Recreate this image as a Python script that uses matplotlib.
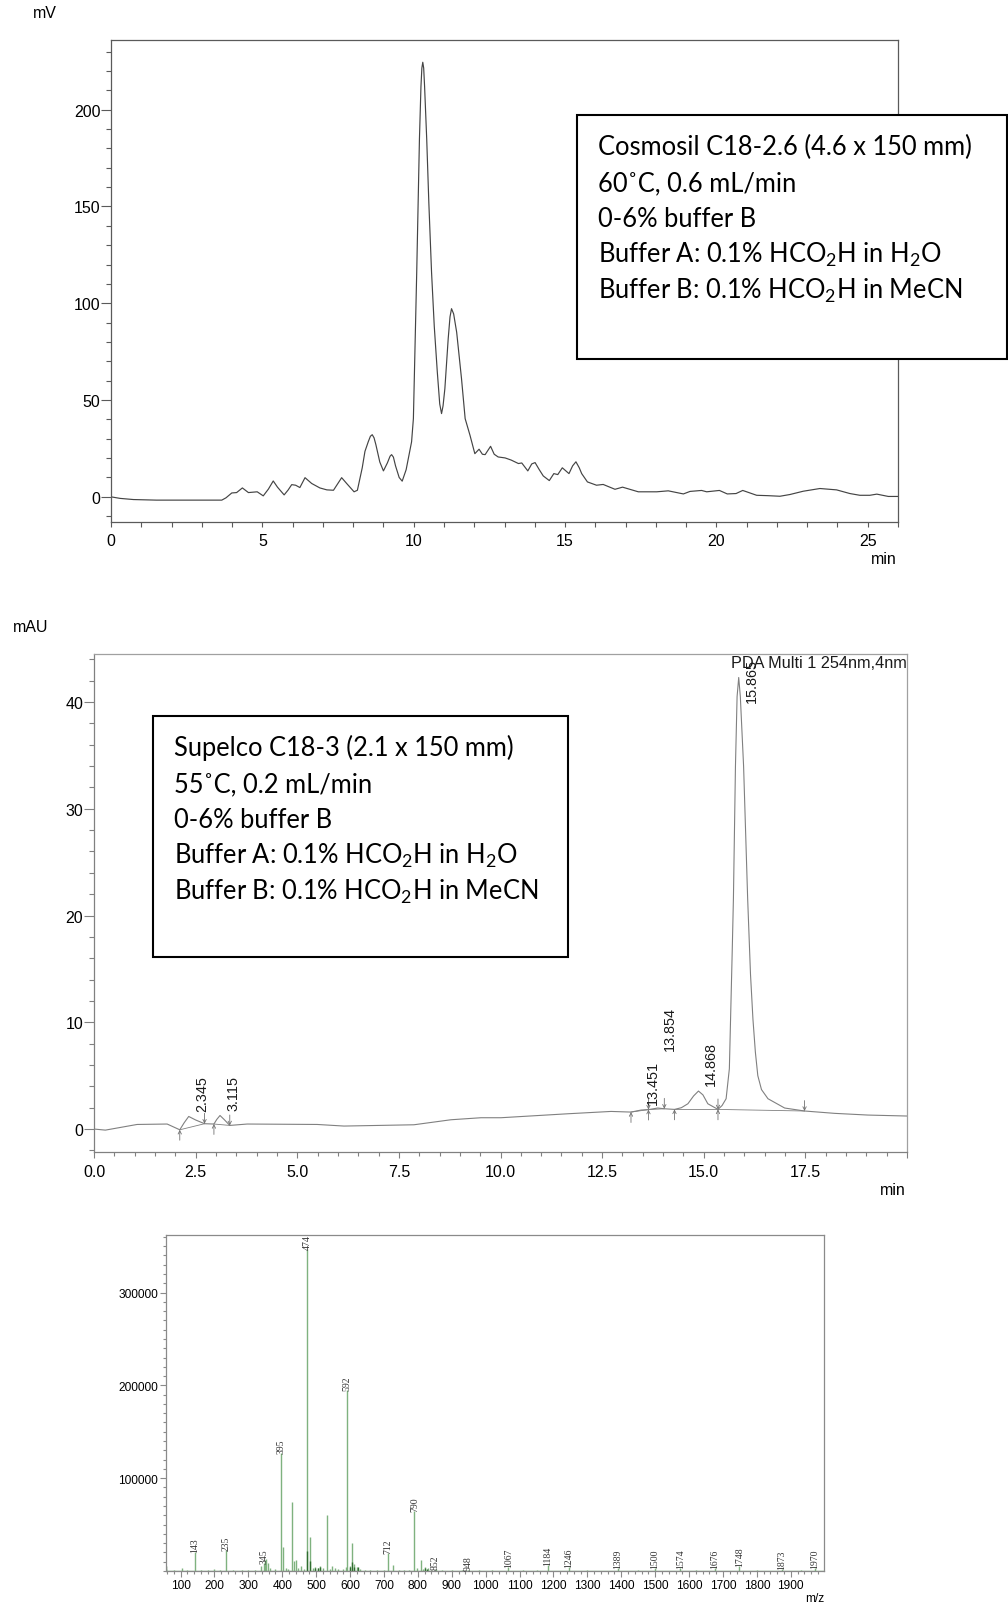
import numpy as np
import matplotlib
matplotlib.use("Agg")
import matplotlib.pyplot as plt
from matplotlib.patches import Rectangle
from matplotlib.ticker import MultipleLocator, FixedLocator, FuncFormatter

plt.rcParams['font.family'] = ['Liberation Sans', 'DejaVu Sans']

FIG_W, FIG_H = 1008, 1608
BOX_FONT = ['Lato', 'DejaVu Sans']

# --- Cosmosil C18-2.6 chromatogram (min, mV) ---
cosmosil_time = [0.0, 0.3, 0.74, 1.5, 3.66, 3.80, 3.99, 4.15, 4.34, 4.54, 4.83, 5.03, 5.20, 5.36,
                 5.50, 5.72, 5.85, 5.97, 6.10, 6.24, 6.41, 6.63, 6.90, 7.13, 7.35, 7.48, 7.62,
                 7.78, 8.03, 8.14, 8.30, 8.39, 8.50, 8.57, 8.63, 8.69, 8.75, 8.88, 9.00, 9.13,
                 9.22, 9.27, 9.33, 9.40, 9.52, 9.62, 9.75, 9.85, 9.93, 9.99, 10.04, 10.10,
                 10.19, 10.24, 10.27, 10.30, 10.33, 10.36, 10.43, 10.50, 10.59, 10.68, 10.78,
                 10.86, 10.92, 10.97, 11.03, 11.14, 11.20, 11.25, 11.32, 11.42, 11.58, 11.70,
                 11.86, 12.02, 12.16, 12.27, 12.36, 12.54, 12.66, 12.79, 13.02, 13.22, 13.46,
                 13.57, 13.77, 13.90, 14.01, 14.15, 14.28, 14.48, 14.63, 14.76, 14.91, 15.13,
                 15.25, 15.36, 15.47, 15.55, 15.74, 16.04, 16.26, 16.65, 16.90, 17.42, 18.03,
                 18.41, 18.91, 19.13, 19.51, 19.68, 20.10, 20.36, 20.65, 20.87, 21.33, 21.71,
                 22.10, 22.43, 22.87, 23.42, 23.97, 24.41, 24.74, 25.07, 25.30, 25.68, 26.00]
cosmosil_mv = [0.0, -0.8, -1.4, -1.7, -1.7, -0.5, 2.0, 2.2, 4.6, 2.2, 2.6, 0.5, 4.0, 8.2,
               5.0, 1.0, 3.5, 6.3, 6.0, 4.8, 9.9, 6.9, 4.6, 3.6, 3.4, 6.5, 9.9,
               7.0, 2.6, 3.4, 15.0, 23.5, 28.5, 31.3, 32.1, 30.5, 27.0, 18.0, 13.4, 17.5,
               21.0, 21.8, 20.5, 16.0, 10.0, 8.1, 14.0, 22.0, 28.4, 40.4, 75.0, 116.0,
               184.9, 212.0, 221.5, 224.5, 221.5, 212.0, 184.9, 152.0, 116.0, 88.0, 64.5,
               48.0, 43.0, 47.0, 55.9, 81.7, 93.0, 97.2, 94.5, 85.0, 61.0, 40.4,
               31.8, 22.3, 24.6, 22.0, 21.8, 26.1, 22.0, 20.6, 20.1, 19.0, 17.2,
               17.5, 13.4, 17.0, 17.7, 14.0, 10.8, 8.4, 12.0, 11.5, 15.0, 12.0,
               16.0, 18.1, 15.0, 12.0, 7.7, 6.0, 6.4, 3.9, 5.0, 2.6, 2.6,
               3.1, 1.5, 2.8, 3.3, 2.6, 3.3, 1.5, 1.7, 3.3, 0.8, 0.6,
               0.3, 1.2, 2.9, 4.3, 3.6, 1.7, 0.8, 0.8, 1.4, 0.2, 0.2]

# --- Supelco C18-3 chromatogram (min, mAU) ---
supelco_time = [0.0, 0.28, 1.06, 1.80, 2.11, 2.22, 2.33, 2.50, 2.72, 2.95, 3.02, 3.10, 3.20,
                3.34, 3.77, 5.49, 6.15, 7.87, 8.78, 9.52, 10.01, 11.65, 12.72, 13.21, 13.46,
                13.64, 13.87, 14.03, 14.28, 14.45, 14.61, 14.75, 14.87, 14.98, 15.10, 15.35,
                15.45, 15.55, 15.63, 15.70, 15.73, 15.78, 15.82, 15.86, 15.90, 15.98, 16.08,
                16.15, 16.21, 16.27, 16.33, 16.42, 16.58, 16.99, 17.48, 18.22, 19.04, 20.0]
supelco_mau = [0.0, -0.1, 0.43, 0.47, -0.07, 0.6, 1.18, 0.85, 0.5, 0.47, 0.9, 1.27, 0.9,
               0.34, 0.47, 0.43, 0.28, 0.40, 0.87, 1.06, 1.06, 1.43, 1.65, 1.59, 1.78,
               1.82, 1.97, 1.9, 1.84, 2.0, 2.37, 3.1, 3.56, 3.2, 2.37, 1.84,
               2.2, 2.84, 5.65, 16.6, 21.6, 34.0, 40.5, 42.3, 40.5, 34.0, 21.6,
               14.5, 10.3, 7.2, 5.0, 3.7, 2.84, 1.97, 1.69, 1.47, 1.31, 1.22]

peak_rt = [2.345, 3.115, 13.451, 13.854, 14.868, 15.865]
peak_label_base = [1.65, 1.74, 2.37, 7.45, 4.15, 40.0]

# integration marks: peak start (arrow up from below) / peak end (arrow down from above)
mark_up = [2.11, 2.95, 13.21, 13.64, 14.28, 15.35]
mark_down = [2.72, 3.34, 13.64, 14.03, 15.35, 17.48]
baseline_start = [2.11, 2.95, 13.21, 13.64, 14.28, 15.35]
baseline_end = [2.72, 3.34, 13.64, 14.03, 15.35, 17.48]

# --- mass spectrum (m/z, counts) ---
ms_mz = [58, 80, 103, 120, 143, 160, 180, 200, 215, 235, 255, 280, 300, 320, 338, 345, 349,
         353, 358, 365, 380, 395, 402, 410, 418, 428, 436, 440, 446, 455, 465, 474, 482,
         490, 496, 505, 512, 520, 532, 540, 548, 556, 565, 580, 587, 592, 600, 606, 612,
         620, 630, 645, 660, 680, 700, 712, 728, 745, 760, 775, 790, 797, 808, 815, 822,
         830, 852, 870, 900, 930, 948, 980, 1020, 1067, 1110, 1150, 1184, 1246, 1300,
         1389, 1450, 1500, 1574, 1620, 1676, 1748, 1800, 1873, 1930, 1970]
ms_counts = [2500, 1200, 3500, 1200, 20400, 1500, 1000, 1800, 1000, 22200, 1000, 1200, 1000,
             1500, 5000, 8600, 12000, 12500, 9000, 3000, 2000, 126900, 25800, 3000, 2000,
             74200, 10500, 12000, 3000, 5000, 2500, 347300, 36600, 3000, 4000, 3500, 5500,
             3000, 59900, 2500, 5000, 3000, 2500, 2500, 4000, 195000, 5000, 30100, 8000,
             4000, 2500, 1500, 1500, 1500, 1500, 19300, 6800, 1500, 1500, 1200, 64800, 3000,
             12200, 2000, 4500, 3000, 2500, 1000, 1000, 800, 700, 800, 800, 4000, 700, 700,
             6800, 4000, 600, 3200, 600, 3200, 3200, 600, 3200, 5000, 600, 2500, 600, 3200]
ms_dark_mz = [58, 474, 482, 497, 505, 512, 600, 606, 612, 622, 822, 828]
ms_dark_counts = [5000, 22000, 11000, 3500, 3000, 4500, 4000, 9500, 4000, 4000, 3500, 2500]
ms_labels = [143, 235, 345, 395, 474, 592, 712, 790, 852, 948, 1067, 1184, 1246, 1389, 1500,
             1574, 1676, 1748, 1873, 1970]

cosmosil_lines = ["Cosmosil C18-2.6 (4.6 x 150 mm)", "60\u02daC, 0.6 mL/min", "0-6% buffer B",
                  r"Buffer A: 0.1% HCO$_\mathregular{2}$H in H$_\mathregular{2}$O",
                  r"Buffer B: 0.1% HCO$_\mathregular{2}$H in MeCN"]
supelco_lines = ["Supelco C18-3 (2.1 x 150 mm)", "55\u02daC, 0.2 mL/min", "0-6% buffer B",
                 r"Buffer A: 0.1% HCO$_\mathregular{2}$H in H$_\mathregular{2}$O",
                 r"Buffer B: 0.1% HCO$_\mathregular{2}$H in MeCN"]


def fx(x):
    return x / FIG_W


def fy(y):
    return 1 - y / FIG_H


def add_axes_px(fig, left, top, right, bottom):
    return fig.add_axes([fx(left), fy(bottom), (right - left) / FIG_W, (bottom - top) / FIG_H])


def add_condition_box(fig, left, top, right, bottom, lines, text_x, first_baseline, step=35.9):
    rect = Rectangle((fx(left), fy(bottom)), (right - left) / FIG_W, (bottom - top) / FIG_H,
                     transform=fig.transFigure, facecolor='white', edgecolor='black',
                     linewidth=1.5, zorder=10)
    fig.add_artist(rect)
    for i, line in enumerate(lines):
        fig.text(fx(text_x), fy(first_baseline + i * step), line, ha='left', va='baseline',
                 fontsize=18.4, family=BOX_FONT, color='black', zorder=11)


def style_spines(ax, color):
    for sp in ax.spines.values():
        sp.set_color(color)
        sp.set_linewidth(0.9)


def plot_cosmosil(fig):
    ax = add_axes_px(fig, 111, 41, 898, 523)
    ax.plot(cosmosil_time, cosmosil_mv, color='#444444', lw=0.85)
    ax.set_xlim(0, 26)
    ax.set_ylim(-13, 236)
    style_spines(ax, '#5a5a5a')
    ax.xaxis.set_major_locator(MultipleLocator(5))
    ax.xaxis.set_minor_locator(MultipleLocator(1))
    ax.yaxis.set_major_locator(FixedLocator([0, 50, 100, 150, 200]))
    ax.yaxis.set_minor_locator(MultipleLocator(10))
    ax.tick_params(axis='y', which='major', length=7.2, width=0.8, color='#5a5a5a', pad=0.5,
                   labelsize=11.5)
    ax.tick_params(axis='y', which='minor', length=3.6, width=0.8, color='#5a5a5a')
    ax.tick_params(axis='x', which='both', length=3.6, width=0.8, color='#5a5a5a', pad=4.5,
                   labelsize=11.5)
    fig.text(fx(33), fy(14), 'mV', ha='left', va='center', fontsize=11.5)
    fig.text(fx(897), fy(560), 'min', ha='right', va='center', fontsize=11.5)
    add_condition_box(fig, 577, 116, 1007, 360, cosmosil_lines, 598, 155.1)


def plot_supelco(fig):
    ax = add_axes_px(fig, 94, 655, 907, 1153)
    ax.plot(supelco_time, supelco_mau, color='#808080', lw=0.8)
    for t0, t1 in zip(baseline_start, baseline_end):
        ax.plot([t0, t1], np.interp([t0, t1], supelco_time, supelco_mau), color='#808080', lw=0.6)
    arrow = dict(arrowstyle='->', color='#707070', lw=0.6, shrinkA=0, shrinkB=0,
                 mutation_scale=6)
    for t in mark_up:
        v = np.interp(t, supelco_time, supelco_mau)
        ax.annotate('', xy=(t, v), xytext=(0, -7.5), textcoords='offset points', arrowprops=arrow)
    for t in mark_down:
        v = np.interp(t, supelco_time, supelco_mau)
        ax.annotate('', xy=(t, v), xytext=(0, 7.5), textcoords='offset points', arrowprops=arrow)
    for rt, base in zip(peak_rt, peak_label_base):
        ax.annotate(f"{rt:.3f}", xy=(rt, base), xytext=(9, 0), textcoords='offset points',
                    rotation=90, ha='center', va='bottom', fontsize=10.4, color='#1a1a1a')
    ax.text(0.9995, 0.9825, 'PDA Multi 1 254nm,4nm', transform=ax.transAxes, ha='right',
            va='center', fontsize=11.7, color='#1a1a1a')
    ax.set_xlim(0, 20)
    ax.set_ylim(-2.15, 44.5)
    style_spines(ax, '#a0a0a0')
    ax.spines['left'].set_color('#808080')
    ax.spines['bottom'].set_color('#808080')
    ax.xaxis.set_major_locator(MultipleLocator(2.5))
    ax.xaxis.set_major_formatter(FuncFormatter(lambda v, p: '' if v > 19 else f"{v:.1f}"))
    ax.xaxis.set_minor_locator(MultipleLocator(0.5))
    ax.yaxis.set_major_locator(FixedLocator([0, 10, 20, 30, 40]))
    ax.yaxis.set_minor_locator(MultipleLocator(2))
    ax.tick_params(axis='y', which='major', length=7.2, width=0.8, color='#808080', pad=0.5,
                   labelsize=11.5)
    ax.tick_params(axis='y', which='minor', length=3.6, width=0.8, color='#808080')
    ax.tick_params(axis='x', which='major', length=4.5, width=0.8, color='#808080', pad=4,
                   labelsize=11.5)
    ax.tick_params(axis='x', which='minor', length=3, width=0.8, color='#808080')
    fig.text(fx(13), fy(627), 'mAU', ha='left', va='center', fontsize=11.5)
    fig.text(fx(906), fy(1191), 'min', ha='right', va='center', fontsize=11.5)
    add_condition_box(fig, 153, 717, 568, 958, supelco_lines, 174, 756)


def plot_ms(fig):
    ax = add_axes_px(fig, 166, 1236, 824, 1572)
    ax.axhline(0, color='#6aa86a', lw=1.0)
    ax.vlines(ms_mz, 0, ms_counts, color='#7fb27f', lw=1.0)
    ax.vlines(ms_dark_mz, 0, ms_dark_counts, color='#2f6e2f', lw=1.0)
    heights = dict(zip(ms_mz, ms_counts))
    for mz in ms_labels:
        ax.text(mz, heights[mz], str(mz), rotation=90, ha='center', va='bottom', fontsize=7,
                family=['Liberation Serif', 'DejaVu Serif'], color='#333333', clip_on=False)
    ax.set_xlim(57, 1998)
    ax.set_ylim(0, 362000)
    style_spines(ax, '#8a8a8a')
    ax.xaxis.set_major_locator(MultipleLocator(100))
    ax.xaxis.set_minor_locator(MultipleLocator(20))
    ax.yaxis.set_major_locator(FixedLocator([100000, 200000, 300000]))
    ax.yaxis.set_minor_locator(MultipleLocator(10000))
    ax.tick_params(axis='both', which='major', length=4.3, width=0.8, color='#8a8a8a', pad=1.5,
                   labelsize=8.6)
    ax.tick_params(axis='both', which='minor', length=2.2, width=0.8, color='#8a8a8a')
    fig.text(fx(824), fy(1599), 'm/z', ha='right', va='center', fontsize=8.6)


def main():
    fig = plt.figure(figsize=(FIG_W / 100, FIG_H / 100), dpi=100)
    plot_cosmosil(fig)
    plot_supelco(fig)
    plot_ms(fig)
    fig.savefig('out.png', dpi=100)


if __name__ == "__main__":
    main()
